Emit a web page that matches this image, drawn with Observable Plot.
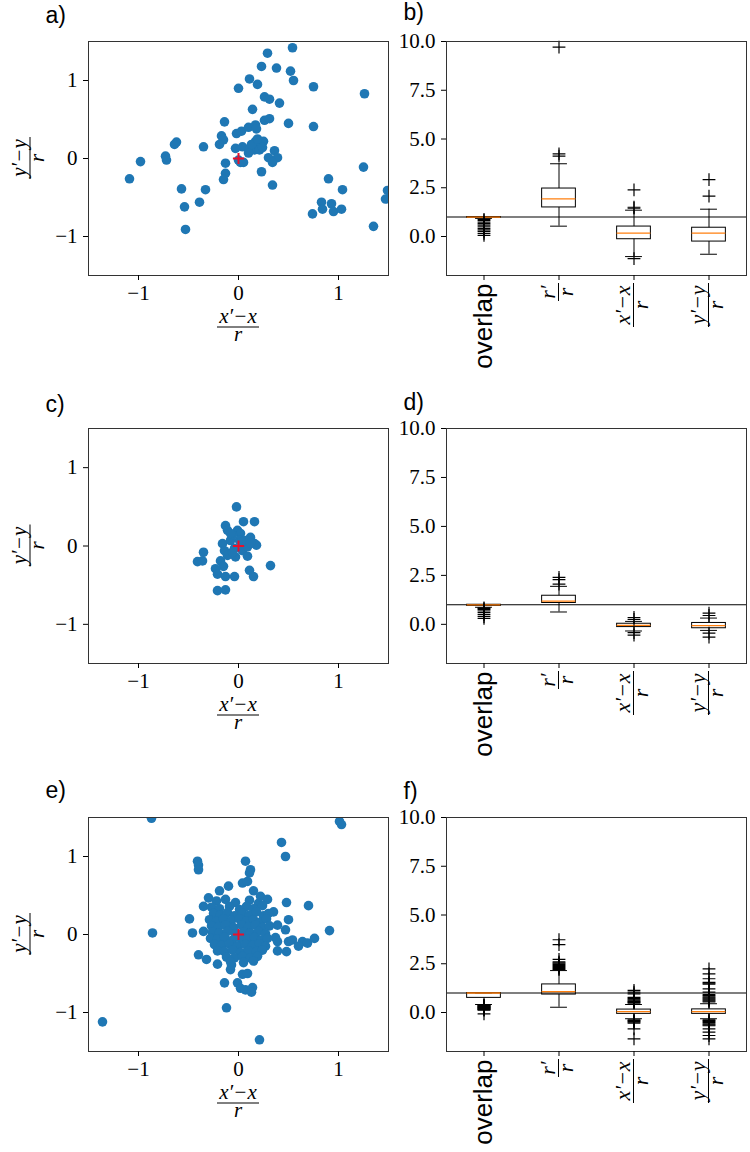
<!DOCTYPE html>
<html><head><meta charset="utf-8">
<script src="https://cdn.jsdelivr.net/npm/d3@7"></script>
<script src="https://cdn.jsdelivr.net/npm/@observablehq/plot@0.6"></script>
<style>
body{margin:0;background:#fff;}
#root{position:relative;width:750px;height:1152px;overflow:hidden;background:#fff;}
#root svg{position:absolute;overflow:visible;background:transparent;}
</style></head><body><div id="root"></div>
<script>
// ---------- data ----------
const tickVals = [-1, 0, 1];
const boxTicks = [0, 2.5, 5, 7.5, 10];
const categories = ["overlap", "r′/r", "(x′−x)/r", "(y′−y)/r"];
const fracNums = ["r′", "x′−x", "y′−y"];
const fracHalf = [9, 22, 22];
const origin = [[0, 0]];

const ptsA = [[0.54,1.42],[0.29,1.35],[0.23,1.18],[0.38,1.16],[0.52,1.12],[0.55,1.00],[0.11,1.02],[0.19,0.95],[0.00,0.90],[0.75,0.92],[1.26,0.83],[0.26,0.79],[0.31,0.76],[0.41,0.71],[0.14,0.63],[0.26,0.49],[0.31,0.51],[0.50,0.45],[0.75,0.41],[-0.14,0.47],[-0.02,0.32],[0.03,0.35],[0.10,0.40],[0.17,0.43],[0.18,0.38],[-0.17,0.29],[-0.15,0.24],[-0.19,0.18],[-0.35,0.15],[-0.62,0.21],[-0.64,0.18],[-0.98,-0.04],[-0.73,0.03],[-0.72,-0.02],[-1.09,-0.26],[-0.03,0.13],[0.04,0.15],[0.12,0.14],[0.17,0.22],[0.20,0.18],[0.25,0.22],[0.16,0.11],[0.21,0.11],[0.10,0.07],[0.36,0.10],[0.30,0.01],[0.39,0.01],[0.34,-0.05],[0.00,-0.02],[0.05,-0.05],[-0.13,-0.06],[-0.13,-0.19],[-0.15,-0.27],[0.23,-0.17],[0.34,-0.34],[-0.57,-0.39],[-0.33,-0.40],[-0.39,-0.56],[-0.54,-0.62],[-0.53,-0.91],[0.90,-0.26],[1.04,-0.40],[1.25,-0.11],[0.83,-0.56],[0.93,-0.58],[0.84,-0.65],[0.95,-0.68],[1.03,-0.65],[0.74,-0.71],[1.35,-0.87],[1.49,-0.41],[1.47,-0.52],[1.55,0.62],[0.13,0.18],[0.19,0.25],[0.02,-0.05],[0.24,0.14]];

const ptsC = [[-0.02,0.50],[0.05,0.31],[0.16,0.31],[-0.13,0.26],[-0.11,0.20],[-0.01,0.20],[0.02,0.16],[0.12,0.11],[0.16,0.03],[0.18,0.01],[-0.16,0.03],[-0.14,-0.06],[-0.08,0.07],[-0.04,-0.03],[0.04,-0.06],[0.09,-0.01],[0.09,-0.13],[-0.03,-0.14],[-0.11,-0.12],[-0.35,-0.08],[-0.41,-0.20],[-0.36,-0.19],[-0.18,-0.19],[-0.15,-0.26],[-0.23,-0.29],[-0.21,-0.36],[-0.13,-0.39],[-0.04,-0.39],[0.11,-0.31],[0.15,-0.39],[0.32,-0.25],[-0.21,-0.57],[-0.13,-0.56],[0.01,0.07],[-0.06,0.14],[0.07,0.07],[-0.08,0.16],[0.03,0.05],[-0.06,-0.08],[0.12,0.04]];

const ptsE = [[-0.87,1.49],[1.01,1.45],[1.03,1.41],[0.43,1.18],[0.47,1.00],[-0.41,0.94],[-0.40,0.89],[-0.40,0.83],[0.07,0.94],[0.12,0.83],[0.11,0.79],[0.04,0.66],[0.09,0.68],[-0.10,0.62],[0.15,0.56],[-0.19,0.56],[-0.30,0.47],[-0.35,0.36],[0.22,0.49],[0.29,0.45],[0.48,0.41],[0.70,0.37],[-0.49,0.20],[0.35,0.29],[0.50,0.19],[0.39,0.12],[0.47,0.06],[0.91,0.05],[-0.86,0.02],[-0.46,0.02],[-0.35,0.04],[0.37,-0.04],[0.39,-0.09],[0.50,-0.09],[0.54,-0.07],[0.64,-0.09],[0.69,-0.11],[0.76,-0.05],[0.60,-0.15],[0.48,-0.22],[0.39,-0.21],[-0.40,-0.26],[-0.32,-0.32],[-0.21,-0.38],[-0.08,-0.45],[-0.07,-0.39],[0.04,-0.51],[0.09,-0.50],[-0.14,-0.62],[-0.01,-0.62],[0.02,-0.69],[0.07,-0.71],[0.14,-0.68],[0.13,-0.74],[-0.12,-0.94],[-1.36,-1.12],[0.21,-1.35],[0.14,-0.30],[0.19,-0.26],
[-0.22,0.43],[-0.13,0.45],[-0.03,0.41],[0.11,0.44],[0.20,0.40],
[-0.27,0.35],[-0.19,0.33],[-0.09,0.36],[0.01,0.32],[0.08,0.36],[0.15,0.33],[0.24,0.37],
[-0.25,0.27],[-0.18,0.25],[-0.11,0.28],[-0.04,0.24],[0.04,0.27],[0.11,0.25],[0.18,0.29],[0.25,0.24],[0.30,0.27],
[-0.29,0.19],[-0.22,0.17],[-0.15,0.20],[-0.07,0.18],[0.01,0.20],[0.08,0.17],[0.15,0.19],[0.22,0.16],[0.28,0.20],
[-0.27,0.11],[-0.20,0.10],[-0.13,0.12],[-0.05,0.09],[0.03,0.12],[0.10,0.10],[0.17,0.12],[0.24,0.09],[0.31,0.11],
[-0.26,0.03],[-0.19,0.02],[-0.11,0.04],[-0.03,0.01],[0.05,0.03],[0.12,0.02],[0.20,0.04],[0.27,0.01],
[-0.28,-0.05],[-0.21,-0.06],[-0.14,-0.04],[-0.06,-0.07],[0.02,-0.05],[0.09,-0.06],[0.16,-0.04],[0.23,-0.07],[0.29,-0.05],
[-0.24,-0.13],[-0.17,-0.14],[-0.09,-0.12],[-0.01,-0.15],[0.07,-0.13],[0.14,-0.14],[0.21,-0.12],[0.27,-0.15],
[-0.21,-0.21],[-0.14,-0.22],[-0.06,-0.20],[0.02,-0.23],[0.10,-0.21],[0.18,-0.22],[0.24,-0.20],
[-0.12,-0.29],[-0.04,-0.30],[0.04,-0.28],[0.12,-0.30],[0.19,-0.28],
[-0.08,-0.35],[0.05,-0.36],[0.15,-0.34]];

// box panel b
const bQ1 = [0.96, 1.49, -0.14, -0.26];
const bMed = [0.99, 1.93, 0.17, 0.17];
const bQ3 = [1.00, 2.46, 0.51, 0.45];
const bLo = [0.93, 0.53, -1.03, -0.91];
const bHi = [1.00, 3.73, 1.35, 1.40];
const bOut = [[0.88,0.82,0.74,0.66,0.58,0.50,0.42,0.34,0.26,0.16,0.06],[4.12,4.24,9.71],[1.45,1.50,2.39,-1.13],[2.07,2.92]];
// box panel d
const dQ1 = [0.94, 1.09, -0.14, -0.20];
const dMed = [0.99, 1.19, -0.05, -0.07];
const dQ3 = [1.00, 1.46, 0.03, 0.07];
const dLo = [0.87, 0.63, -0.34, -0.31];
const dHi = [1.00, 1.94, 0.15, 0.32];
const dOut = [[0.84,0.80,0.75,0.68,0.60,0.50,0.40,0.30],[2.05,2.28,2.40],[0.25,0.35,-0.42,-0.55],[0.45,0.57,-0.45,-0.65]];
// box panel f
const fQ1 = [0.75, 0.92, -0.07, -0.07];
const fMed = [1.00, 1.07, 0.04, 0.05];
const fQ3 = [1.00, 1.44, 0.15, 0.16];
const fLo = [0.41, 0.27, -0.32, -0.32];
const fHi = [1.00, 2.15, 0.41, 0.45];
const fOut = [[0.38,0.36,0.34,0.32,0.30,0.28,0.26,0.24,0.22,0.20,0.18,0.16,0.14,0.12,-0.07],
  [2.20,2.25,2.30,2.35,2.40,2.45,2.50,2.55,2.60,2.72,3.48,3.73],
  [0.48,0.52,0.56,0.60,0.64,0.68,0.72,0.78,0.95,1.05,1.13,-0.38,-0.42,-0.46,-0.50,-0.55,-0.84,-1.35],
  [0.55,0.60,0.65,0.70,0.75,0.80,0.87,0.92,1.04,1.21,1.45,1.50,1.55,1.73,1.98,2.24,-0.38,-0.42,-0.47,-0.52,-0.58,-0.63,-0.68,-0.84,-1.01,-1.18,-1.35]];

// ---------- drawing ----------
const SERIF = "'Liberation Serif','Times New Roman',serif";
const SANS = "'Liberation Sans',Arial,sans-serif";
const STYLE = {background: "transparent", overflow: "visible", fontFamily: SERIF, fontSize: "21px", color: "black"};
const intFmt = d3.format("d");

// a fraction drawn as one text element (numerator + denominator tspans) and a bar
function fracGroup(num, den, fs, half) {
  const g = d3.create("svg:g");
  const t = g.append("text").attr("text-anchor", "middle")
    .attr("font-style", "italic").attr("font-family", SERIF).attr("font-size", fs).attr("fill", "black");
  t.append("tspan").attr("x", 0).attr("y", -4).text(num);
  t.append("tspan").attr("x", 0).attr("y", 14).text(den);
  g.append("line").attr("x1", -half).attr("x2", half).attr("stroke", "black").attr("stroke-width", 1);
  return g;
}

function scatterLabels(index, scales, values, dims) {
  const g = d3.create("svg:g");
  const cx = (dims.marginLeft + dims.width - dims.marginRight) / 2;
  const bottom = dims.height - dims.marginBottom;
  const cy = (dims.marginTop + dims.height - dims.marginBottom) / 2;
  const xl = fracGroup("x′−x", "r", 21, 21);
  xl.attr("transform", `translate(${cx},${bottom + 52})`);
  g.append(() => xl.node());
  const yl = fracGroup("y′−y", "r", 21, 21);
  yl.attr("transform", `translate(${dims.marginLeft - 58},${cy}) rotate(-90)`);
  g.append(() => yl.node());
  return g.node();
}

function boxFracTicks(index, scales, values, dims) {
  const g = d3.create("svg:g");
  const bottom = dims.height - dims.marginBottom;
  fracNums.forEach((num, k) => {
    const x = scales.x(k + 2);
    const half = fracHalf[k];
    const fg = fracGroup(num, "r", 22, half);
    fg.attr("transform", `translate(${x},${bottom + 8 + half}) rotate(-90)`);
    g.append(() => fg.node());
  });
  return g.node();
}

function panelLabel(label, dx, dy) {
  return Plot.text([label], {frameAnchor: "top-left", text: d => d, dx, dy, textAnchor: "start",
    lineAnchor: "bottom", fontSize: 23, fontFamily: SANS, fill: "black"});
}

function scatterPanel(pts, label, h, mb, ldy) {
  return Plot.plot({
    width: 392, height: h, marginLeft: 88, marginRight: 4, marginTop: 41, marginBottom: mb,
    style: STYLE,
    x: {domain: [-1.5, 1.5]}, y: {domain: [-1.5, 1.5]},
    marks: [
      Plot.dot(pts, {x: d => d[0], y: d => d[1], r: 4.8, fill: "#1f77b4", clip: true}),
      Plot.dot(origin, {x: d => d[0], y: d => d[1], symbol: "plus", r: 3.7, stroke: "#e8102a", strokeWidth: 2}),
      Plot.frame({stroke: "#333"}),
      Plot.axisX({ticks: tickVals, tickFormat: intFmt, tickSize: 5, tickPadding: 5, label: null, fontSize: 21, fontFamily: SERIF}),
      Plot.axisY({ticks: tickVals, tickFormat: intFmt, tickSize: 5, tickPadding: 6, label: null, fontSize: 21, fontFamily: SERIF}),
      scatterLabels,
      panelLabel(label, -43, ldy)
    ]
  });
}

function boxPanel(q1, med, q3, lo, hi, out, label, h, mb, ldy) {
  const rows = categories.map((c, i) => ({i: i + 1, cat: c, q1: q1[i], med: med[i], q3: q3[i], lo: lo[i], hi: hi[i]}));
  const outs = out.flatMap((vs, i) => vs.map(v => ({i: i + 1, v})));
  const bh = 0.225, ch = 0.1125;
  return Plot.plot({
    width: 358, height: h, marginLeft: 54, marginRight: 4, marginTop: 41, marginBottom: mb,
    style: STYLE,
    x: {type: "linear", domain: [0.5, 4.5]}, y: {domain: [-2, 10]},
    marks: [
      Plot.ruleY([1], {stroke: "black", strokeWidth: 1.2}),
      Plot.ruleX(rows, {x: "i", y1: "lo", y2: "q1", stroke: "black"}),
      Plot.ruleX(rows, {x: "i", y1: "q3", y2: "hi", stroke: "black"}),
      Plot.ruleY(rows, {y: "lo", x1: d => d.i - ch, x2: d => d.i + ch, stroke: "black"}),
      Plot.ruleY(rows, {y: "hi", x1: d => d.i - ch, x2: d => d.i + ch, stroke: "black"}),
      Plot.rect(rows, {x1: d => d.i - bh, x2: d => d.i + bh, y1: "q1", y2: "q3", fill: "none", stroke: "black"}),
      Plot.ruleY(rows, {y: "med", x1: d => d.i - bh, x2: d => d.i + bh, stroke: "#ff7f0e", strokeWidth: 1.3}),
      Plot.dot(outs, {x: "i", y: "v", symbol: "plus", r: 4.2, stroke: "black", strokeWidth: 1.2}),
      Plot.frame({stroke: "#333"}),
      Plot.axisY({ticks: boxTicks, tickFormat: d => d.toFixed(1), tickSize: 5, tickPadding: 6, label: null, fontSize: 21, fontFamily: SERIF}),
      Plot.axisX({ticks: [1, 2, 3, 4], tickFormat: i => i === 1 ? categories[0] : "", tickSize: 5, tickPadding: 3,
        tickRotate: -90, label: null, fontSize: 26, fontFamily: SANS}),
      boxFracTicks,
      panelLabel(label, -43, ldy)
    ]
  });
}

const root = document.getElementById("root");
function place(svg, left, top) {
  svg.style.position = "absolute";
  svg.style.left = left + "px";
  svg.style.top = top + "px";
  root.appendChild(svg);
}
place(scatterPanel(ptsA, "a)", 387, 112, -19), 0, 0);
place(boxPanel(bQ1, bMed, bQ3, bLo, bHi, bOut, "b)", 387, 112, -22), 392, 0);
place(scatterPanel(ptsC, "c)", 389, 113, -17), 0, 387);
place(boxPanel(dQ1, dMed, dQ3, dLo, dHi, dOut, "d)", 389, 113, -19), 392, 387);
place(scatterPanel(ptsE, "e)", 376, 101, -20), 0, 776);
place(boxPanel(fQ1, fMed, fQ3, fLo, fHi, fOut, "f)", 376, 101, -19), 392, 776);
</script></body></html>
